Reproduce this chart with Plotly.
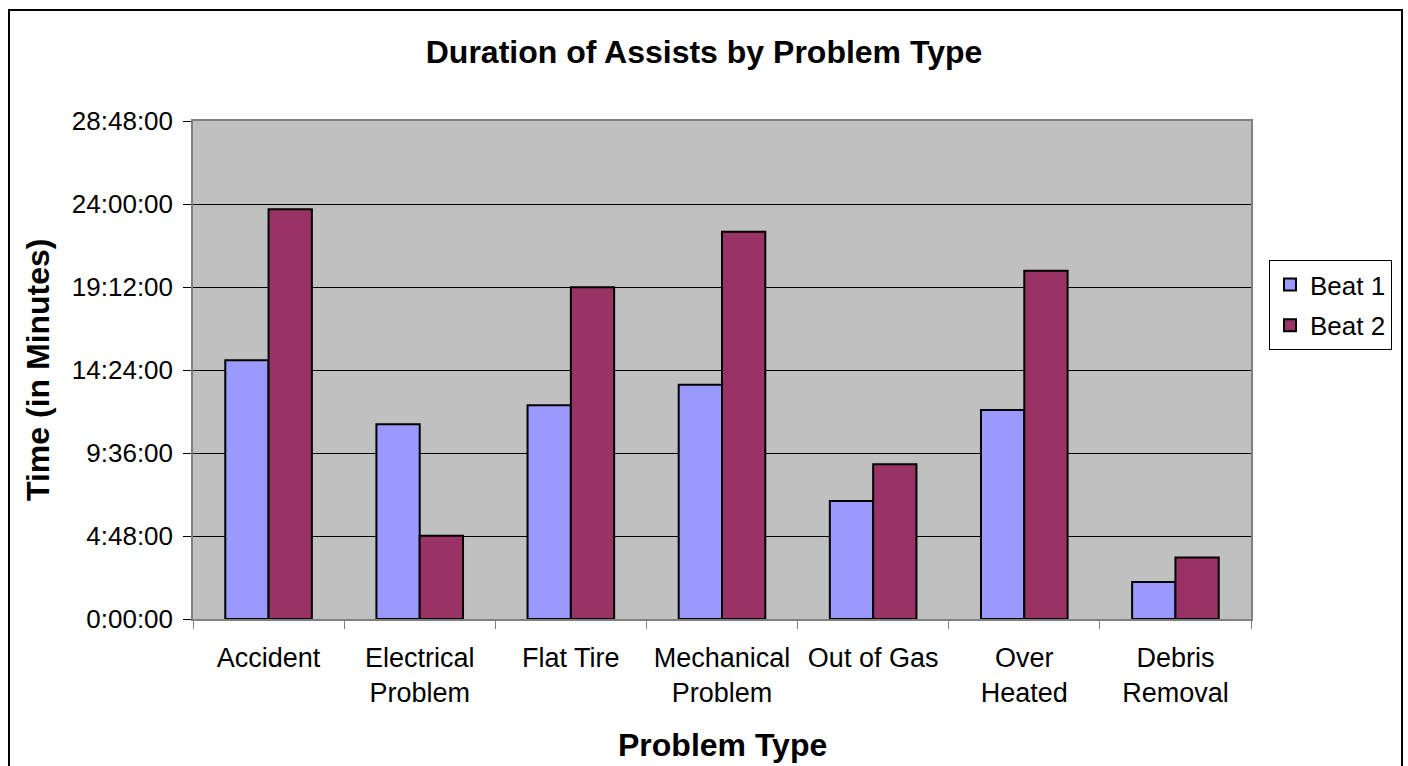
import plotly.graph_objects as go

categories = ["Accident", "Electrical<br>Problem", "Flat Tire", "Mechanical<br>Problem",
              "Out of Gas", "Over<br>Heated", "Debris<br>Removal"]
# durations in hours
beat1_hours = [14.96, 11.26, 12.36, 13.55, 6.83, 12.09, 2.14]
beat2_hours = [23.70, 4.81, 19.18, 22.39, 8.95, 20.14, 3.56]
tick_values = [0, 4.8, 9.6, 14.4, 19.2, 24.0, 28.8]
tick_labels = ["0:00:00", "4:48:00", "9:36:00", "14:24:00", "19:12:00", "24:00:00", "28:48:00"]

W, H = 1408, 766
L, R, T, B = 193, 157, 121, 147
pw, ph = W - L - R, H - T - B

def px_x(x):
    return (x - L) / pw

def px_y(y):
    return (H - B - y) / ph

FONT = "Liberation Sans, Arial, sans-serif"

fig = go.Figure()
fig.add_trace(go.Bar(name="Beat 1", x=categories, y=beat1_hours, legendgroup="b1",
                     marker=dict(color="#9999FF", line=dict(color="black", width=2))))
fig.add_trace(go.Bar(name="Beat 2", x=categories, y=beat2_hours, legendgroup="b2",
                     marker=dict(color="#993366", line=dict(color="black", width=2))))

fig.update_layout(
    width=W, height=H,
    margin=dict(l=L, r=R, t=T, b=B, autoexpand=False),
    paper_bgcolor="white", plot_bgcolor="#C0C0C0",
    font=dict(family=FONT, size=26, color="black"),
    barmode="group", bargap=0.427, bargroupgap=0,
    title=dict(text="<b>Duration of Assists by Problem Type</b>", x=0.5, xref="container",
               y=1 - 52 / H, yref="container", yanchor="middle", xanchor="center",
               font=dict(size=32, family=FONT, color="black")),
    legend=dict(x=px_x(1269), y=px_y(260), xanchor="left", yanchor="top",
                bordercolor="black", borderwidth=1, bgcolor="white",
                font=dict(size=26, family=FONT), traceorder="grouped", tracegroupgap=4),
    xaxis=dict(type="category", tickson="boundaries", ticks="outside", ticklen=8,
               tickcolor="#808080", showline=True, linecolor="#808080", linewidth=1.5,
               mirror=True, showgrid=False, tickfont=dict(size=27), fixedrange=True,
               ticklabelstandoff=14),
    yaxis=dict(range=[0, 28.8], tickvals=tick_values, ticktext=tick_labels,
               ticks="outside", ticklen=8, tickcolor="black", showline=True,
               linecolor="#808080", linewidth=1.5, mirror=True, showgrid=True,
               gridcolor="black", gridwidth=1, zeroline=False, tickfont=dict(size=26),
               ticklabelstandoff=5),
    showlegend=True,
)

fig.add_annotation(text="<b>Problem Type</b>", xref="paper", yref="paper",
                   x=0.5, y=px_y(745), xanchor="center", yanchor="middle",
                   showarrow=False, font=dict(size=32, family=FONT, color="black"))
fig.add_annotation(text="<b>Time (in Minutes)</b>", xref="paper", yref="paper",
                   x=px_x(38), y=0.5, xanchor="center", yanchor="middle", textangle=-90,
                   showarrow=False, font=dict(size=32, family=FONT, color="black"))

fig.add_shape(type="rect", xref="paper", yref="paper",
              x0=px_x(9), x1=px_x(1402), y0=px_y(790), y1=px_y(10),
              line=dict(color="black", width=2), fillcolor="rgba(0,0,0,0)", layer="above")

fig.write_html("out.html", config={"displayModeBar": False},
               post_script="document.body.style.margin='0px';")
